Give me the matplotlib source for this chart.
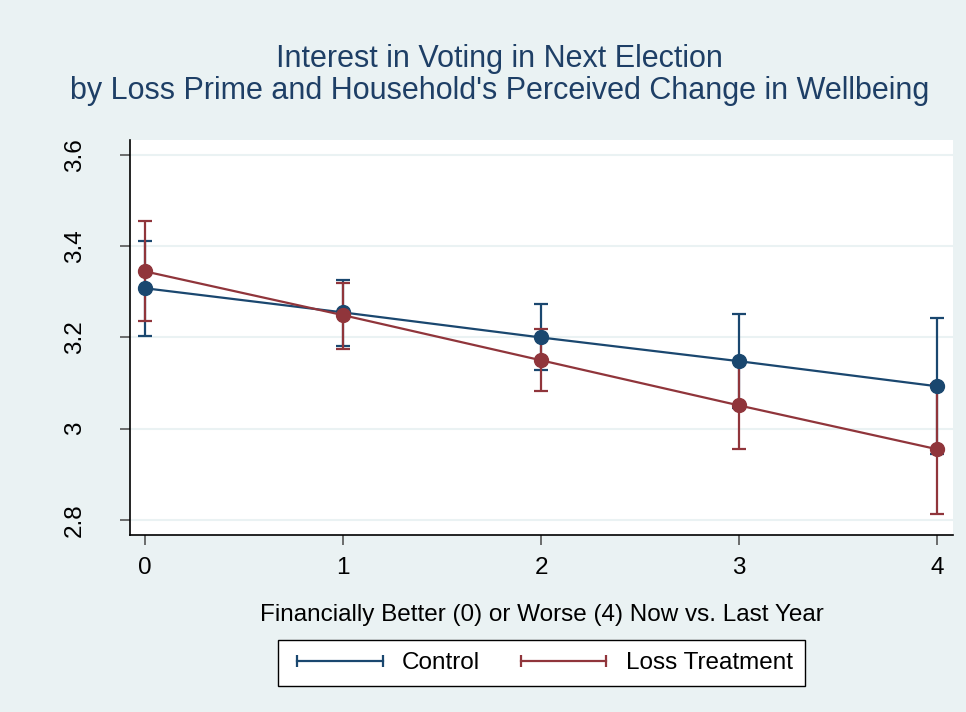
import matplotlib.pyplot as plt
from matplotlib.lines import Line2D

# data
wellbeing = [0, 1, 2, 3, 4]
control_mean = [3.308, 3.255, 3.200, 3.148, 3.093]
control_lo = [3.203, 3.181, 3.128, 3.045, 2.944]
control_hi = [3.411, 3.325, 3.273, 3.251, 3.242]
loss_mean = [3.345, 3.249, 3.150, 3.051, 2.955]
loss_lo = [3.236, 3.174, 3.082, 2.955, 2.813]
loss_hi = [3.455, 3.319, 3.218, 3.147, 3.097]
y_ticks = [2.8, 3.0, 3.2, 3.4, 3.6]
y_tick_labels = ["2.8", "3", "3.2", "3.4", "3.6"]

NAVY = "#1a476f"
MAROON = "#90353b"
BG = "#eaf2f3"

plt.rcParams["font.family"] = ["Liberation Sans", "DejaVu Sans"]

fig = plt.figure(figsize=(9.66, 7.12), dpi=100, facecolor=BG)
ax = fig.add_axes([0.1346, 0.2486, 0.852, 0.5548])
ax.set_facecolor("white")

# confidence intervals first, then lines and points
for mean, lo, hi, col in [
    (control_mean, control_lo, control_hi, NAVY),
    (loss_mean, loss_lo, loss_hi, MAROON),
]:
    err = [[m - l for m, l in zip(mean, lo)], [h - m for m, h in zip(mean, hi)]]
    ax.errorbar(wellbeing, mean, yerr=err, fmt="none", ecolor=col,
                elinewidth=1.6, capsize=5, capthick=1.6, zorder=2)

for mean, col in [(control_mean, NAVY), (loss_mean, MAROON)]:
    ax.plot(wellbeing, mean, color=col, lw=1.6, marker="o", markersize=10,
            zorder=3)

ax.set_xlim(-0.075, 4.08)
ax.set_ylim(2.767, 3.633)
ax.set_xticks(wellbeing)
ax.set_yticks(y_ticks)
ax.set_yticklabels(y_tick_labels, rotation=90, va="center")
ax.tick_params(axis="both", labelsize=17.5, length=7, width=1.2,
               color="#555555")
ax.tick_params(axis="x", pad=9)
ax.tick_params(axis="y", pad=25)
ax.grid(axis="y", color=BG, lw=1.5, zorder=0)
ax.set_axisbelow(True)

for side in ["top", "right"]:
    ax.spines[side].set_visible(False)
for side in ["left", "bottom"]:
    ax.spines[side].set_color("black")
    ax.spines[side].set_linewidth(1.2)

ax.set_xlabel("Financially Better (0) or Worse (4) Now vs. Last Year",
              fontsize=17.5, labelpad=18)

fig.text(0.517, 1 - 75 / 712,
         "Interest in Voting in Next Election\n"
         "by Loss Prime and Household's Perceived Change in Wellbeing",
         fontsize=22, color="#1e3f66", ha="center", va="center",
         linespacing=1.1)

handles = [
    Line2D([], [], color=NAVY, lw=1.6, marker="|", markersize=9, mew=1.6),
    Line2D([], [], color=MAROON, lw=1.6, marker="|", markersize=9, mew=1.6),
]
leg = fig.legend(handles, ["Control", "Loss Treatment"], loc="center",
                 bbox_to_anchor=(0.5606, 0.0688), ncol=2, numpoints=2,
                 fontsize=17.5, frameon=True, fancybox=False, handlelength=4.1,
                 handletextpad=0.5, columnspacing=1.4, borderpad=0.5,
                 framealpha=1)
leg.get_frame().set_edgecolor("black")
leg.get_frame().set_facecolor("white")
leg.get_frame().set_linewidth(1.0)

fig.savefig("out.png", dpi=100, facecolor=BG)
